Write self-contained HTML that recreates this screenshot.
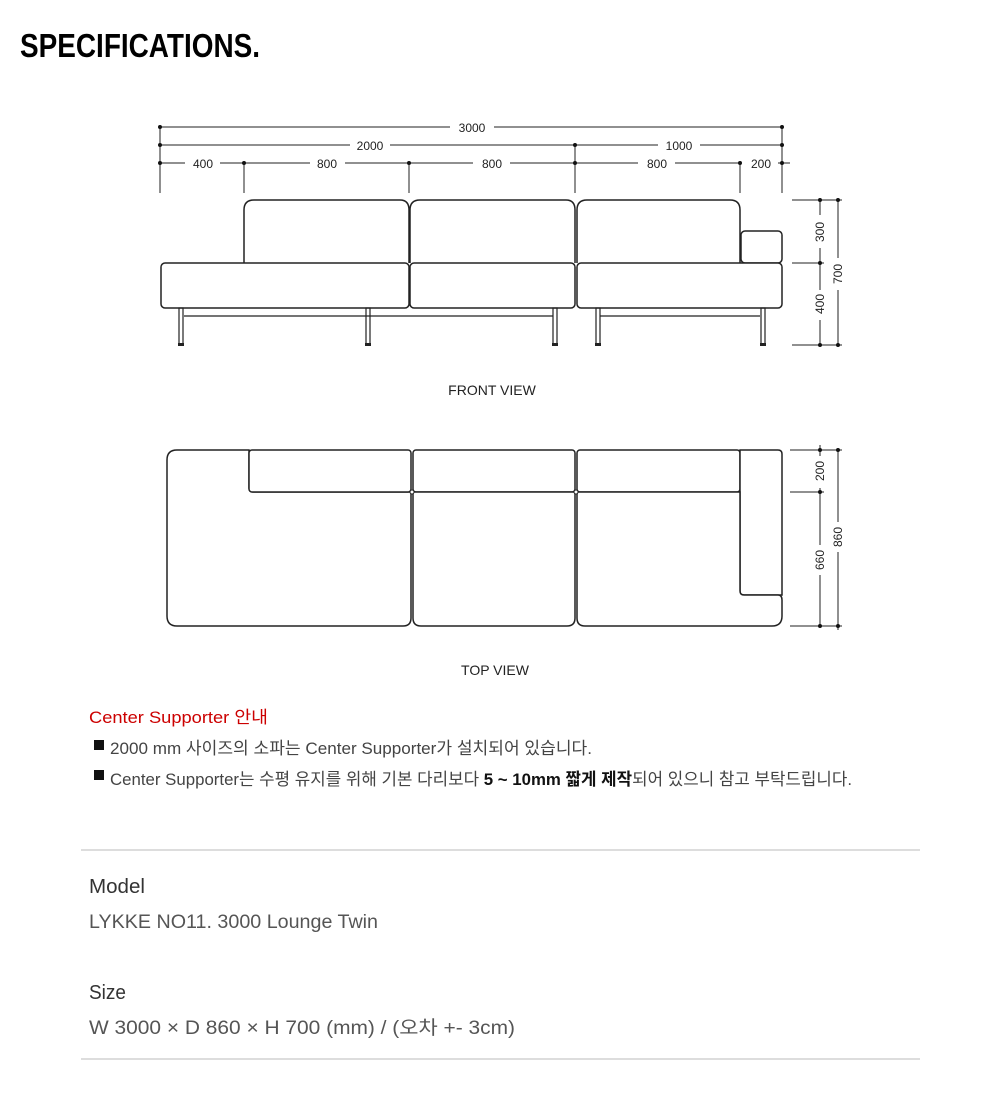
<!DOCTYPE html>
<html><head><meta charset="utf-8"><style>
html,body{margin:0;padding:0;background:#fff;}
svg{display:block;}
text{font-family:"Liberation Sans","Noto Sans CJK KR",sans-serif;}
</style></head><body>
<svg width="1000" height="1114" viewBox="0 0 1000 1114" xmlns="http://www.w3.org/2000/svg">
<text x="20" y="57" font-size="33" font-weight="bold" textLength="240" lengthAdjust="spacingAndGlyphs" fill="#000">SPECIFICATIONS.</text>

<!-- front view dims -->
<g stroke="#222" stroke-width="1" fill="none">
<line x1="160" y1="127" x2="450" y2="127"/><line x1="494" y1="127" x2="782" y2="127"/>
<line x1="160" y1="145" x2="350" y2="145"/><line x1="390" y1="145" x2="575" y2="145"/>
<line x1="575" y1="145" x2="658" y2="145"/><line x1="700" y1="145" x2="782" y2="145"/>
<line x1="160" y1="163" x2="185" y2="163"/><line x1="220" y1="163" x2="310" y2="163"/><line x1="345" y1="163" x2="473" y2="163"/><line x1="510" y1="163" x2="638" y2="163"/><line x1="675" y1="163" x2="740" y2="163"/><line x1="778" y1="163" x2="790" y2="163"/>
<line x1="160" y1="127" x2="160" y2="193"/><line x1="244" y1="163" x2="244" y2="193"/><line x1="409" y1="163" x2="409" y2="193"/><line x1="575" y1="145" x2="575" y2="193"/><line x1="740" y1="163" x2="740" y2="193"/><line x1="782" y1="127" x2="782" y2="193"/>
</g>
<g fill="#111">
<circle cx="160" cy="127" r="2"/><circle cx="782" cy="127" r="2"/>
<circle cx="160" cy="145" r="2"/><circle cx="575" cy="145" r="2"/><circle cx="782" cy="145" r="2"/>
<circle cx="160" cy="163" r="2"/><circle cx="244" cy="163" r="2"/><circle cx="409" cy="163" r="2"/><circle cx="575" cy="163" r="2"/><circle cx="740" cy="163" r="2"/><circle cx="782" cy="163" r="2"/>
</g>
<g font-size="12" fill="#222" text-anchor="middle">
<text x="472" y="132">3000</text><text x="370" y="150">2000</text><text x="679" y="150">1000</text>
<text x="203" y="168">400</text><text x="327" y="168">800</text><text x="492" y="168">800</text><text x="657" y="168">800</text><text x="761" y="168">200</text>
</g>

<!-- front sofa -->
<g stroke="#222" stroke-width="1.5" fill="#fff">
<path d="M244 263 V210 Q244 200 254 200 H400 Q409 200 409 210 V263"/>
<path d="M410 263 V210 Q410 200 420 200 H566 Q575 200 575 210 V263"/>
<path d="M577 263 V210 Q577 200 587 200 H730 Q740 200 740 210 V263"/>
<rect x="741" y="231" width="41" height="32" rx="4"/>
<rect x="161" y="263" width="248" height="45" rx="4"/>
<rect x="410" y="263" width="165" height="45" rx="4"/>
<rect x="577" y="263" width="205" height="45" rx="4"/>
</g>
<g stroke="#222" stroke-width="1.2" fill="none">
<line x1="184" y1="316" x2="553" y2="316"/><line x1="600" y1="316" x2="760" y2="316"/>
<rect x="179" y="308" width="4" height="37"/><rect x="366" y="308" width="4" height="37"/><rect x="553" y="308" width="4" height="37"/><rect x="596" y="308" width="4" height="37"/><rect x="761" y="308" width="4" height="37"/>
</g>
<g fill="#222"><rect x="178" y="343" width="6" height="3"/><rect x="365" y="343" width="6" height="3"/><rect x="552" y="343" width="6" height="3"/><rect x="595" y="343" width="6" height="3"/><rect x="760" y="343" width="6" height="3"/></g>

<!-- right dims front -->
<g stroke="#222" stroke-width="1" fill="none">
<line x1="792" y1="200" x2="842" y2="200"/><line x1="792" y1="263" x2="824" y2="263"/><line x1="792" y1="345" x2="842" y2="345"/>
<line x1="820" y1="200" x2="820" y2="215"/><line x1="820" y1="248" x2="820" y2="290"/><line x1="820" y1="320" x2="820" y2="345"/>
<line x1="838" y1="200" x2="838" y2="258"/><line x1="838" y1="290" x2="838" y2="345"/>
</g>
<g fill="#111"><circle cx="820" cy="200" r="2"/><circle cx="838" cy="200" r="2"/><circle cx="820" cy="263" r="2"/><circle cx="820" cy="345" r="2"/><circle cx="838" cy="345" r="2"/></g>
<g font-size="12" fill="#222" text-anchor="middle">
<text transform="translate(824 232) rotate(-90)">300</text>
<text transform="translate(824 304) rotate(-90)">400</text>
<text transform="translate(842 274) rotate(-90)">700</text>
</g>
<text x="492" y="395" font-size="14" fill="#222" text-anchor="middle">FRONT VIEW</text>

<!-- top view -->
<g stroke="#222" stroke-width="1.5" fill="#fff">
<path d="M249 450 H177 Q167 450 167 460 V616 Q167 626 177 626 H403 Q411 626 411 618 V492 H253 Q249 492 249 488 Z"/>
<rect x="249" y="450" width="162" height="42" rx="3"/>
<rect x="413" y="450" width="162" height="42" rx="3"/>
<path d="M413 492 H575 V618 Q575 626 567 626 H421 Q413 626 413 618 Z"/>
<rect x="577" y="450" width="163" height="42" rx="3"/>
<path d="M740 450 H778 Q782 450 782 454 V595 H744 Q740 595 740 591 Z"/>
<path d="M577 492 H740 V591 Q740 595 744 595 H778 Q782 595 782 600 V616 Q782 626 772 626 H585 Q577 626 577 618 Z"/>
</g>
<g fill="#fff" stroke="#222" stroke-width="1"><circle cx="412" cy="492" r="2"/><circle cx="576" cy="492" r="2"/></g>
<g stroke="#222" stroke-width="1" fill="none">
<line x1="790" y1="450" x2="842" y2="450"/><line x1="790" y1="492" x2="824" y2="492"/><line x1="790" y1="626" x2="842" y2="626"/>
<line x1="820" y1="445" x2="820" y2="456"/><line x1="820" y1="488" x2="820" y2="545"/><line x1="820" y1="575" x2="820" y2="626"/>
<line x1="838" y1="450" x2="838" y2="522"/><line x1="838" y1="552" x2="838" y2="630"/>
</g>
<g fill="#111"><circle cx="820" cy="450" r="2"/><circle cx="838" cy="450" r="2"/><circle cx="820" cy="492" r="2"/><circle cx="820" cy="626" r="2"/><circle cx="838" cy="626" r="2"/></g>
<g font-size="12" fill="#222" text-anchor="middle">
<text transform="translate(824 471) rotate(-90)">200</text>
<text transform="translate(824 560) rotate(-90)">660</text>
<text transform="translate(842 537) rotate(-90)">860</text>
</g>
<text x="495" y="675" font-size="14" fill="#222" text-anchor="middle">TOP VIEW</text>

<!-- notes -->
<text x="89" y="723" font-size="17" fill="#cc0000" textLength="179" lengthAdjust="spacingAndGlyphs">Center Supporter 안내</text>
<rect x="94" y="740" width="10" height="10" fill="#111"/>
<text x="110" y="754" font-size="17" fill="#444" textLength="482" lengthAdjust="spacingAndGlyphs">2000 mm 사이즈의 소파는 Center Supporter가 설치되어 있습니다.</text>
<rect x="94" y="770" width="10" height="10" fill="#111"/>
<text x="110" y="785" font-size="17" fill="#444" textLength="742" lengthAdjust="spacingAndGlyphs">Center Supporter는 수평 유지를 위해 기본 다리보다 <tspan font-weight="bold" fill="#111">5 ~ 10mm 짧게 제작</tspan>되어 있으니 참고 부탁드립니다.</text>

<line x1="81" y1="850" x2="920" y2="850" stroke="#ddd" stroke-width="2"/>
<text x="89" y="893" font-size="20" fill="#333" textLength="56" lengthAdjust="spacingAndGlyphs">Model</text>
<text x="89" y="928" font-size="19" fill="#555" textLength="289" lengthAdjust="spacingAndGlyphs">LYKKE NO11. 3000 Lounge Twin</text>
<text x="89" y="999" font-size="20" fill="#333" textLength="37" lengthAdjust="spacingAndGlyphs">Size</text>
<text x="89" y="1034" font-size="19" fill="#555" textLength="426" lengthAdjust="spacingAndGlyphs">W 3000 × D 860 × H 700 (mm) / (오차 +- 3cm)</text>
<line x1="81" y1="1059" x2="920" y2="1059" stroke="#ddd" stroke-width="2"/>
</svg>
</body></html>
